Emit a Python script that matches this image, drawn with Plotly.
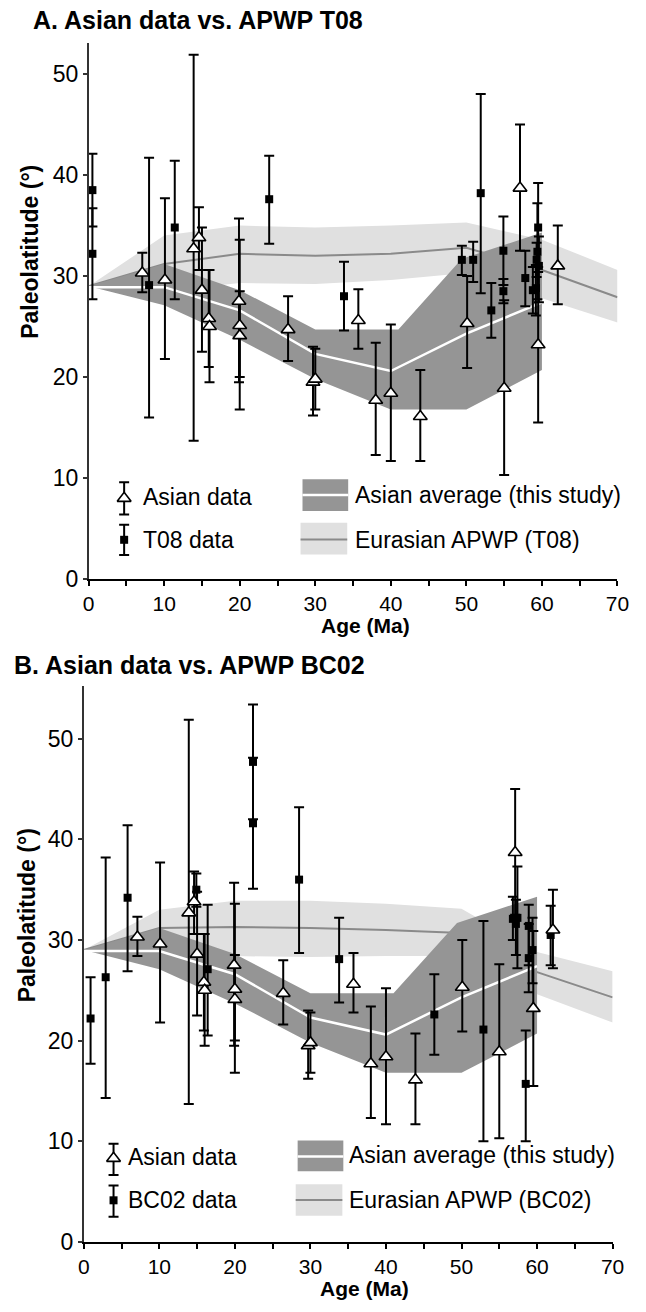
import plotly.graph_objects as go

W, H = 646, 1312

# ---------------- data ----------------
# Asian data (same in both panels): age, paleolatitude, lower, upper
asian_age = [7.1, 10.1, 13.9, 14.6, 15.0, 15.9, 16.0, 19.9, 20.0, 20.0, 26.4, 29.7, 30.0,
             35.7, 38.0, 40.0, 43.9, 50.1, 55.0, 57.1, 59.5, 62.1]
asian_lat = [30.3, 29.6, 32.7, 33.8, 28.6, 25.8, 25.0, 27.5, 25.1, 24.1, 24.7, 19.5, 19.8,
             25.6, 17.7, 18.4, 16.1, 25.3, 18.9, 38.7, 23.2, 31.0]
asian_lo = [28.4, 21.8, 13.7, 30.6, 22.5, 21.0, 19.5, 19.5, 20.0, 16.8, 21.6, 16.2, 16.8,
            22.8, 12.3, 11.7, 11.7, 20.9, 10.3, 32.5, 15.5, 27.2]
asian_hi = [32.3, 37.7, 51.9, 36.8, 34.8, 30.6, 30.6, 35.7, 33.6, 28.5, 28.0, 23.0, 22.8,
            28.7, 23.4, 25.2, 20.7, 30.0, 27.6, 45.0, 30.9, 35.0]

# T08 data
t08_age = [0.5, 0.5, 8.0, 11.4, 23.9, 33.8, 49.4, 50.9, 51.9, 53.3, 54.9, 54.9, 57.8,
           59.5, 59.4, 59.3, 59.6, 59.2, 58.8]
t08_lat = [38.5, 32.2, 29.1, 34.8, 37.6, 28.0, 31.6, 31.6, 38.2, 26.6, 32.5, 28.5, 29.8,
           34.8, 32.4, 31.6, 31.0, 28.8, 28.6]
t08_lo = [34.9, 27.7, 16.0, 27.7, 33.2, 24.6, 30.1, 29.4, 28.3, 23.9, 29.1, 27.3, 27.0,
          30.4, 27.7, 29.9, 27.4, 26.1, 26.3]
t08_hi = [42.1, 36.7, 41.7, 41.4, 41.9, 31.4, 33.0, 33.4, 48.0, 29.3, 35.9, 29.7, 32.5,
          39.2, 37.2, 33.3, 33.9, 31.1, 30.9]

# BC02 data
bc_age = [0.9, 2.9, 5.8, 14.9, 16.4, 22.4, 22.4, 28.5, 33.8, 46.4, 52.9, 58.5,
          56.8, 57.4, 57.2, 58.9, 59.4, 58.9, 61.8]
bc_lat = [22.2, 26.3, 34.2, 35.0, 27.1, 47.7, 41.6, 36.0, 28.1, 22.6, 21.1, 15.7,
          32.1, 32.2, 31.6, 31.4, 29.0, 28.2, 30.5]
bc_lo = [17.7, 14.3, 26.9, 33.3, 20.5, 42.0, 35.1, 28.7, 23.8, 18.6, 10.0, 10.0,
         30.0, 27.2, 28.5, 27.5, 25.7, 24.8, 27.5]
bc_hi = [26.3, 38.2, 41.4, 36.6, 33.5, 53.4, 48.1, 43.2, 32.2, 26.6, 31.9, 21.0,
         34.3, 37.3, 34.0, 33.5, 32.2, 31.6, 33.4]

# Asian average (this study)
avg_age = [0, 10, 20, 30, 40, 50, 60]
avg_lat = [28.9, 28.9, 26.6, 22.3, 20.6, 24.3, 27.4]
avgband_age_top = [0, 10, 20, 30, 41, 49.4, 60]
avgband_top = [29.0, 31.2, 28.6, 24.7, 24.7, 31.7, 34.3]
avgband_age_bot = [0, 10, 20, 30, 40, 50, 60]
avgband_bot = [29.0, 27.1, 23.7, 19.8, 16.8, 16.8, 20.7]

# Eurasian APWP T08
apwp_age = [0, 10, 20, 30, 40, 50, 60, 70]
t08_line = [29.0, 31.2, 32.2, 32.0, 32.2, 32.8, 30.6, 27.9]
t08_top = [29.0, 34.0, 35.0, 34.8, 35.0, 35.3, 33.6, 30.6]
t08_bot = [29.0, 28.5, 29.3, 29.2, 29.6, 30.3, 27.8, 25.4]

# Eurasian APWP BC02
bc_line = [29.0, 31.2, 31.3, 31.2, 31.0, 30.7, 26.8, 24.3]
bc_top = [29.0, 33.0, 33.9, 33.9, 33.6, 33.1, 28.8, 26.9]
bc_bot = [29.0, 29.2, 28.4, 28.3, 28.4, 28.4, 24.6, 21.8]

x_ticks = [0, 10, 20, 30, 40, 50, 60, 70]
y_ticks = [0, 10, 20, 30, 40, 50]

# ---------------- style ----------------
FONT = "Liberation Sans, Arial, sans-serif"
DARK = "#959595"
LIGHT = "#e0e0e0"
GLINE = "#8a8a8a"


def px(x):
    return x / W


def py(y):
    return 1 - y / H


fig = go.Figure()


def errs(lat, lo, hi):
    return [h - v for v, h in zip(lat, hi)], [v - l for v, l in zip(lat, lo)]


def add_panel(xa, ya, line, top, bot, other_age, other_lat, other_lo, other_hi):
    # light APWP band
    fig.add_trace(go.Scatter(x=apwp_age + apwp_age[::-1], y=top + bot[::-1], fill="toself",
                             fillcolor=LIGHT, line=dict(width=0), mode="lines",
                             hoverinfo="skip", xaxis=xa, yaxis=ya, showlegend=False))
    fig.add_trace(go.Scatter(x=apwp_age, y=line, mode="lines", line=dict(color=GLINE, width=2),
                             xaxis=xa, yaxis=ya, showlegend=False))
    # dark Asian average band
    fig.add_trace(go.Scatter(x=avgband_age_top + avgband_age_bot[::-1],
                             y=avgband_top + avgband_bot[::-1], fill="toself",
                             fillcolor=DARK, line=dict(width=0), mode="lines",
                             hoverinfo="skip", xaxis=xa, yaxis=ya, showlegend=False))
    fig.add_trace(go.Scatter(x=avg_age, y=avg_lat, mode="lines", line=dict(color="white", width=2.5),
                             xaxis=xa, yaxis=ya, showlegend=False))
    # reference data (squares)
    ep, em = errs(other_lat, other_lo, other_hi)
    fig.add_trace(go.Scatter(x=other_age, y=other_lat, mode="markers",
                             marker=dict(symbol="square", size=8, color="black"),
                             error_y=dict(type="data", symmetric=False, array=ep, arrayminus=em,
                                          color="black", thickness=2, width=5),
                             cliponaxis=False, xaxis=xa, yaxis=ya, showlegend=False))
    # Asian data (triangles)
    ep, em = errs(asian_lat, asian_lo, asian_hi)
    fig.add_trace(go.Scatter(x=asian_age, y=asian_lat, mode="markers",
                             marker=dict(symbol="triangle-up", size=12, color="white",
                                         line=dict(color="black", width=1.6)),
                             error_y=dict(type="data", symmetric=False, array=ep, arrayminus=em,
                                          color="black", thickness=2, width=5),
                             cliponaxis=False, xaxis=xa, yaxis=ya, showlegend=False))


add_panel("x", "y", t08_line, t08_top, t08_bot, t08_age, t08_lat, t08_lo, t08_hi)
add_panel("x2", "y2", bc_line, bc_top, bc_bot, bc_age, bc_lat, bc_lo, bc_hi)


# ---------------- legend keys (manual legend) ----------------
def legend_key(xa, ya, kx, ky_tri, tri_err, ky_sq, sq_err):
    fig.add_trace(go.Scatter(x=[kx], y=[ky_tri], mode="markers",
                             marker=dict(symbol="triangle-up", size=12, color="white",
                                         line=dict(color="black", width=1.6)),
                             error_y=dict(type="data", symmetric=False, array=[tri_err[1] - ky_tri],
                                          arrayminus=[ky_tri - tri_err[0]], color="black",
                                          thickness=2, width=5),
                             cliponaxis=False, xaxis=xa, yaxis=ya, showlegend=False))
    fig.add_trace(go.Scatter(x=[kx], y=[ky_sq], mode="markers",
                             marker=dict(symbol="square", size=8, color="black"),
                             error_y=dict(type="data", symmetric=False, array=[sq_err[1] - ky_sq],
                                          arrayminus=[ky_sq - sq_err[0]], color="black",
                                          thickness=2, width=5),
                             cliponaxis=False, xaxis=xa, yaxis=ya, showlegend=False))


legend_key("x", "y", 4.7, 8.0, (6.4, 9.6), 3.9, (2.4, 5.4))
legend_key("x2", "y2", 3.94, 8.3, (6.65, 9.76), 4.13, (2.5, 5.6))

shapes = []
annotations = []


def legend_boxes(x0, x1, y0d, y1d, yld, y0l, y1l, yll):
    shapes.append(dict(type="rect", xref="paper", yref="paper", x0=px(x0), x1=px(x1),
                       y0=py(y1d), y1=py(y0d), fillcolor=DARK, line=dict(width=0), layer="above"))
    shapes.append(dict(type="line", xref="paper", yref="paper", x0=px(x0), x1=px(x1),
                       y0=py(yld), y1=py(yld), line=dict(color="white", width=2.5), layer="above"))
    shapes.append(dict(type="rect", xref="paper", yref="paper", x0=px(x0 - 2), x1=px(x1 - 1),
                       y0=py(y1l), y1=py(y0l), fillcolor=LIGHT, line=dict(width=0), layer="above"))
    shapes.append(dict(type="line", xref="paper", yref="paper", x0=px(x0 - 2), x1=px(x1 - 1),
                       y0=py(yll), y1=py(yll), line=dict(color=GLINE, width=2), layer="above"))


legend_boxes(305, 352, 484, 516, 500, 528, 560, 545)
legend_boxes(300, 347, 1152, 1183, 1168, 1196, 1228, 1212)


def text(x, y, s, size=23, bold=False, xanchor="left", angle=0):
    annotations.append(dict(xref="paper", yref="paper", x=px(x), y=py(y), text=s,
                            showarrow=False, xanchor=xanchor, yanchor="middle", textangle=angle,
                            borderpad=0,
                            font=dict(family=FONT, size=size, color="black",
                                      weight="bold" if bold else "normal")))


text(140, 502, "Asian data")
text(140, 545, "T08 data")
text(358, 500, "Asian average (this study)")
text(358, 545, "Eurasian APWP (T08)")
text(124, 1169, "Asian data")
text(124, 1212, "BC02 data")
text(352, 1167, "Asian average (this study)")
text(352, 1212, "Eurasian APWP (BC02)")

# titles
text(27, 20, "A. Asian data vs. APWP T08", size=25, bold=True)
text(7, 672, "B. Asian data vs. APWP BC02", size=25, bold=True)
# axis titles
text(370, 632, "Age (Ma)", size=21, bold=True, xanchor="center")
text(369, 1301, "Age (Ma)", size=21, bold=True, xanchor="center")
text(25, 254, "Paleolatitude (°)", size=23, bold=True, xanchor="center", angle=-90)
text(21, 924, "Paleolatitude (°)", size=23, bold=True, xanchor="center", angle=-90)

xax = dict(range=[0, 70], tickvals=x_ticks, ticks="outside", ticklen=5, tickwidth=1.5,
           tickcolor="black", showline=True, linecolor="black", linewidth=1.5,
           showgrid=False, zeroline=False, fixedrange=True,
           minor=dict(dtick=5, ticks="outside", ticklen=5, tickwidth=1.5, tickcolor="black"),
           tickfont=dict(family=FONT, size=21, color="black"))
yax = dict(tickvals=y_ticks, ticks="outside", ticklen=4, tickwidth=1.5, tickcolor="#333",
           showline=True, linecolor="#333", linewidth=1.5, showgrid=False, zeroline=False,
           fixedrange=True, tickfont=dict(family=FONT, size=23, color="black"))

fig.update_layout(
    width=W, height=H, margin=dict(l=0, r=0, t=0, b=0),
    paper_bgcolor="white", plot_bgcolor="white", showlegend=False, hovermode=False,
    xaxis=dict(xax, domain=[px(85), px(629)], anchor="y"),
    yaxis=dict(yax, domain=[py(585), py(43)], range=[0, 53.1], anchor="x"),
    xaxis2=dict(xax, domain=[px(80), px(624)], anchor="y2"),
    yaxis2=dict(yax, domain=[py(1254.3), py(693.3)], range=[0, 55.2], anchor="x2"),
    shapes=shapes, annotations=annotations,
)

fig.write_html("out.html", config={"displayModeBar": False},
               post_script="document.body.style.margin='0';")
